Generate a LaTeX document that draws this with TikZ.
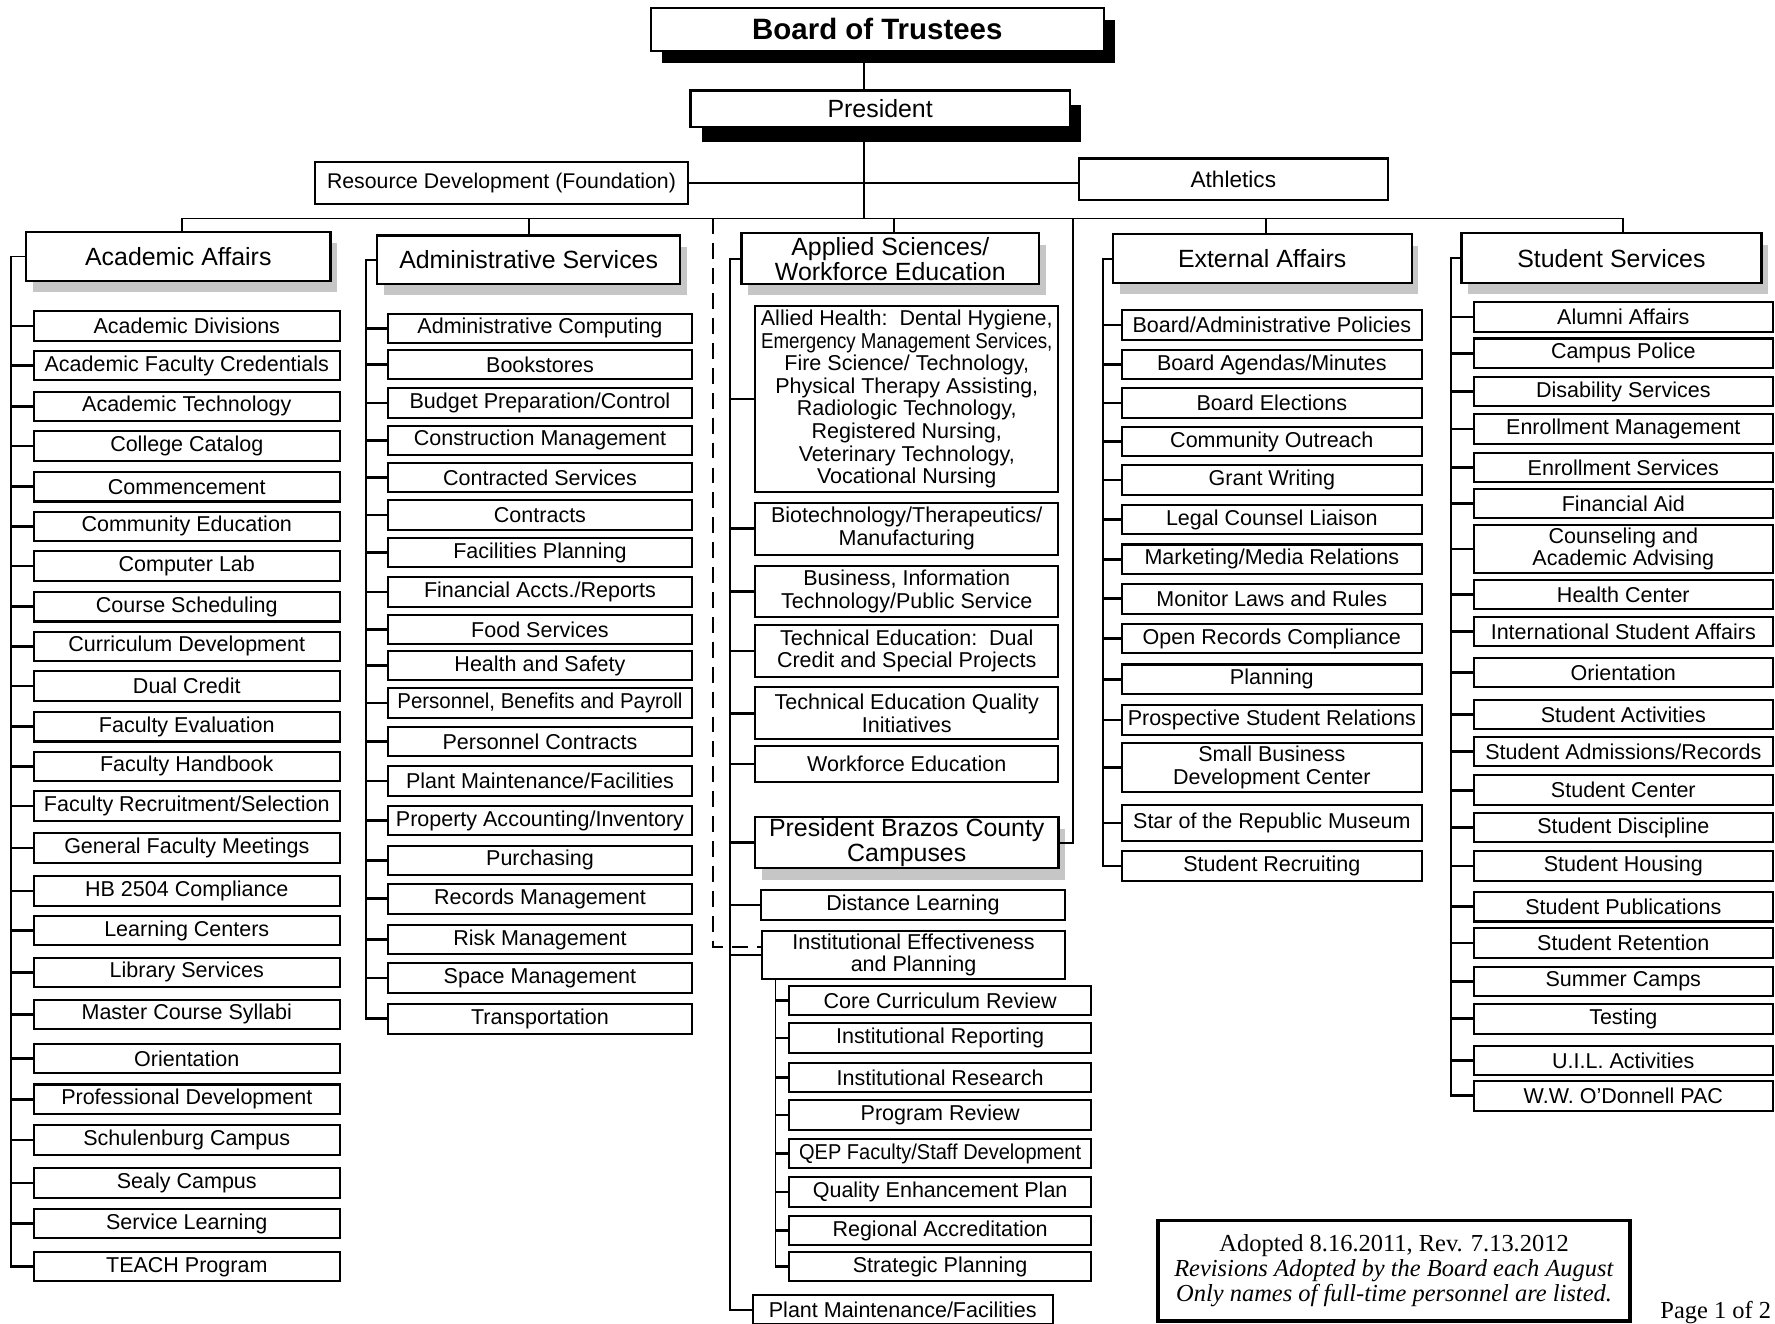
\documentclass[tikz,border=0pt]{standalone}
\usepackage{fontspec}
\setmainfont{Liberation Sans}
\newfontfamily\notefont{Liberation Serif}
\usetikzlibrary{shadows}

\begin{document}
\begin{tikzpicture}[x=0.5pt,y=-0.5pt,
    box/.style={draw, line width=0.9pt, fill=white, inner sep=0pt, align=center},
    item/.style={box, minimum width=134pt, minimum height=13pt, font=\fontsize{9.5}{10}\selectfont},
    head/.style={box, line width=1pt, minimum width=134pt, minimum height=21.5pt,
        font=\fontsize{11}{11}\selectfont,
        drop shadow={shadow xshift=3pt, shadow yshift=-5pt, fill=gray!45, opacity=1}},
    spine/.style={line width=0.8pt},
    tick/.style={line width=1.2pt}]
    \useasboundingbox (0,0) rectangle (1568,1169);

    % Board and President
    \node[box, line width=1pt, minimum width=200pt, minimum height=19pt,
        font=\bfseries\fontsize{13}{13}\selectfont,
        drop shadow={shadow xshift=5pt, shadow yshift=-5.5pt, fill=black, opacity=1}]
        (board) at (775,26) {Board of Trustees};
    \node[box, line width=1pt, minimum width=167.5pt, minimum height=16pt,
        font=\fontsize{11}{11}\selectfont,
        drop shadow={shadow xshift=5pt, shadow yshift=-6.5pt, fill=black, opacity=1}]
        (pres) at (777.5,96) {President};
    \node[box, minimum width=165pt, minimum height=18.5pt, font=\fontsize{9.4}{10}\selectfont]
        (res) at (443,161.5) {Resource Development (Foundation)};
    \node[box, minimum width=136.5pt, minimum height=18.5pt, font=\fontsize{10}{10}\selectfont]
        (ath) at (1089.5,158.5) {Athletics};

    \coordinate (trunk) at (763,0);
    \coordinate (bus) at (0,193);
    \draw[spine] (board.south -| trunk) -- (pres.north -| trunk);
    \draw[spine] (pres.south -| trunk) -- (trunk |- bus);
    \draw[spine] (res.east) -- (res.east -| ath.west);

    % Division heads
    \node[head, minimum width=134.5pt] (aahead) at (157.5,226.5) {Academic Affairs};
    \node[head] (ashead) at (467,229.5) {Administrative Services};
    \node[head, minimum width=131.5pt, minimum height=22.5pt] (aphead) at (786.5,228.5)
        {Applied Sciences/\\Workforce Education};
    \node[head, minimum width=132pt] (eahead) at (1115,228.5) {External Affairs};
    \node[head, minimum width=132.5pt, minimum height=22pt] (sshead) at (1423.5,228) {Student Services};

    \draw[spine] ([xshift=1.5pt]aahead.north) -- ([xshift=1.5pt]aahead.north |- bus)
        -- ([xshift=5pt]sshead.north |- bus) -- ([xshift=5pt]sshead.north);
    \draw[spine] (ashead.north) -- (ashead.north |- bus);
    \draw[spine] ([xshift=1.5pt]aphead.north) -- ([xshift=1.5pt]aphead.north |- bus);
    \draw[spine] ([xshift=1.5pt]eahead.north) -- ([xshift=1.5pt]eahead.north |- bus);

    % Academic Affairs
    \node[item, minimum width=135pt] (aa1) at (165,288) {Academic Divisions};
    \node[item, minimum width=135pt] (aa2) at (165,323) {Academic Faculty Credentials};
    \node[item, minimum width=135pt] (aa3) at (165,359) {Academic Technology};
    \node[item, minimum width=135pt] (aa4) at (165,394) {College Catalog};
    \node[item, minimum width=135pt] (aa5) at (165,430) {Commencement};
    \node[item, minimum width=135pt] (aa6) at (165,465) {Community Education};
    \node[item, minimum width=135pt] (aa7) at (165,500) {Computer Lab};
    \node[item, minimum width=135pt] (aa8) at (165,536) {Course Scheduling};
    \node[item, minimum width=135pt] (aa9) at (165,571) {Curriculum Development};
    \node[item, minimum width=135pt] (aa10) at (165,606) {Dual Credit};
    \node[item, minimum width=135pt] (aa11) at (165,642) {Faculty Evaluation};
    \node[item, minimum width=135pt] (aa12) at (165,677) {Faculty Handbook};
    \node[item, minimum width=135pt] (aa13) at (165,712) {Faculty Recruitment/Selection};
    \node[item, minimum width=135pt] (aa14) at (165,749) {General Faculty Meetings};
    \node[item, minimum width=135pt] (aa15) at (165,787) {HB 2504 Compliance};
    \node[item, minimum width=135pt] (aa16) at (165,822) {Learning Centers};
    \node[item, minimum width=135pt] (aa17) at (165,859) {Library Services};
    \node[item, minimum width=135pt] (aa18) at (165,896) {Master Course Syllabi};
    \node[item, minimum width=135pt] (aa19) at (165,935) {Orientation};
    \node[item, minimum width=135pt] (aa20) at (165,971) {Professional Development};
    \node[item, minimum width=135pt] (aa21) at (165,1007) {Schulenburg Campus};
    \node[item, minimum width=135pt] (aa22) at (165,1045) {Sealy Campus};
    \node[item, minimum width=135pt] (aa23) at (165,1081) {Service Learning};
    \node[item, minimum width=135pt] (aa24) at (165,1119) {TEACH Program};
    \coordinate (aasp) at (10,0);
    \draw[spine] (aahead.west) -| (aasp |- aa24.west) -- (aa24.west);
    \foreach \i in {1,...,24} \draw[tick] (aa\i.west) -- (aa\i.west -| aasp);

    % Administrative Services
    \node[item] (as1) at (477,290) {Administrative Computing};
    \node[item] (as2) at (477,322) {Bookstores};
    \node[item] (as3) at (477,356) {Budget Preparation/Control};
    \node[item] (as4) at (477,389) {Construction Management};
    \node[item] (as5) at (477,422) {Contracted Services};
    \node[item] (as6) at (477,455) {Contracts};
    \node[item] (as7) at (477,488) {Facilities Planning};
    \node[item] (as8) at (477,523) {Financial Accts./Reports};
    \node[item] (as9) at (477,556) {Food Services};
    \node[item] (as10) at (477,588) {Health and Safety};
    \node[item] (as11) at (477,621) {\scalebox{0.95}[1]{Personnel, Benefits and Payroll}};
    \node[item] (as12) at (477,655) {Personnel Contracts};
    \node[item] (as13) at (477,690) {Plant Maintenance/Facilities};
    \node[item] (as14) at (477,725) {Property Accounting/Inventory};
    \node[item] (as15) at (477,760) {Purchasing};
    \node[item] (as16) at (477,794) {Records Management};
    \node[item] (as17) at (477,830) {Risk Management};
    \node[item] (as18) at (477,864) {Space Management};
    \node[item] (as19) at (477,900) {Transportation};
    \coordinate (assp) at (323,0);
    \draw[spine] (ashead.west) -| (assp |- as19.west) -- (as19.west);
    \foreach \i in {1,...,19} \draw[tick] (as\i.west) -- (as\i.west -| assp);

    % Applied Sciences / Workforce Education
    \node[item, minimum height=82.5pt] (ap1) at (801,352.5)
        {Allied Health:\ \ Dental Hygiene,\\
         \scalebox{0.87}[1]{Emergency Management Services,}\\
         Fire Science/ Technology,\\
         Physical Therapy Assisting,\\
         Radiologic Technology,\\
         Registered Nursing,\\
         Veterinary Technology,\\
         Vocational Nursing};
    \node[item, minimum height=23pt] (ap2) at (801,467) {Biotechnology/Therapeutics/\\Manufacturing};
    \node[item, minimum height=22.5pt] (ap3) at (801,522.5) {Business, Information\\Technology/Public Service};
    \node[item, minimum height=23pt] (ap4) at (801,575) {Technical Education:\ \ Dual\\Credit and Special Projects};
    \node[item, minimum height=23pt] (ap5) at (801,630) {Technical Education Quality\\Initiatives};
    \node[item, minimum height=16pt] (ap6) at (801,675) {Workforce Education};
    \node[head, minimum height=22.5pt] (bzhead) at (801,744.5) {President Brazos County\\Campuses};
    \node[item, minimum height=13.5pt] (dl) at (806.5,799.5) {Distance Learning};
    \node[item, minimum height=21.5pt] (ie) at (807,843.5) {Institutional Effectiveness\\and Planning};
    \node[item, minimum width=132.5pt] (pm) at (797.5,1157) {Plant Maintenance/Facilities};
    \coordinate (apsp) at (645,0);
    \draw[spine] (aphead.west) -| (apsp |- pm.west) -- (pm.west);
    \foreach \n in {ap1,ap2,ap3,ap4,ap5,ap6,bzhead,dl,ie} \draw[tick] (\n.west) -- (\n.west -| apsp);

    % Brazos County link and dashed link
    \coordinate (bzc) at (948,193);
    \draw[spine] (bzc) |- (bzhead.east);
    \coordinate (dsh) at (630,193);
    \draw[spine, dash pattern=on 7pt off 4pt] (dsh) |- ([yshift=3.5pt]ie.west);

    % Institutional Effectiveness
    \node[item, minimum width=133.5pt] (ie1) at (830.5,884) {Core Curriculum Review};
    \node[item, minimum width=133.5pt] (ie2) at (830.5,917) {Institutional Reporting};
    \node[item, minimum width=133.5pt] (ie3) at (830.5,952) {Institutional Research};
    \node[item, minimum width=133.5pt] (ie4) at (830.5,985) {Program Review};
    \node[item, minimum width=133.5pt] (ie5) at (830.5,1019) {\scalebox{0.93}[1]{QEP Faculty/Staff Development}};
    \node[item, minimum width=133.5pt] (ie6) at (830.5,1053) {Quality Enhancement Plan};
    \node[item, minimum width=133.5pt] (ie7) at (830.5,1087) {Regional Accreditation};
    \node[item, minimum width=133.5pt] (ie8) at (830.5,1119) {Strategic Planning};
    \coordinate (iesp) at (685,0);
    \draw[spine] (ie.south -| iesp) -- (iesp |- ie8.west) -- (ie8.west);
    \foreach \i in {1,...,8} \draw[tick] (ie\i.west) -- (ie\i.west -| iesp);

    % External Affairs
    \node[item, minimum width=132.5pt] (ea1) at (1123.5,287) {Board/Administrative Policies};
    \node[item, minimum width=132.5pt] (ea2) at (1123.5,322) {Board Agendas/Minutes};
    \node[item, minimum width=132.5pt] (ea3) at (1123.5,356) {Board Elections};
    \node[item, minimum width=132.5pt] (ea4) at (1123.5,390) {Community Outreach};
    \node[item, minimum width=132.5pt] (ea5) at (1123.5,424) {Grant Writing};
    \node[item, minimum width=132.5pt] (ea6) at (1123.5,459) {Legal Counsel Liaison};
    \node[item, minimum width=132.5pt] (ea7) at (1123.5,494) {Marketing/Media Relations};
    \node[item, minimum width=132.5pt] (ea8) at (1123.5,529) {Monitor Laws and Rules};
    \node[item, minimum width=132.5pt] (ea9) at (1123.5,564) {Open Records Compliance};
    \node[item, minimum width=132.5pt] (ea10) at (1123.5,600) {Planning};
    \node[item, minimum width=132.5pt] (ea11) at (1123.5,636) {Prospective Student Relations};
    \node[item, minimum width=132.5pt, minimum height=22pt] (ea12) at (1123.5,678) {Small Business\\Development Center};
    \node[item, minimum width=132.5pt, minimum height=16pt] (ea13) at (1123.5,727) {Star of the Republic Museum};
    \node[item, minimum width=132.5pt] (ea14) at (1123.5,765) {Student Recruiting};
    \coordinate (easp) at (974,0);
    \draw[spine] (eahead.west) -| (easp |- ea14.west) -- (ea14.west);
    \foreach \i in {1,...,14} \draw[tick] (ea\i.west) -- (ea\i.west -| easp);

    % Student Services
    \node[item, minimum width=132pt] (ss1) at (1434,280) {Alumni Affairs};
    \node[item, minimum width=132pt] (ss2) at (1434,312) {Campus Police};
    \node[item, minimum width=132pt] (ss3) at (1434,346) {Disability Services};
    \node[item, minimum width=132pt] (ss4) at (1434,379) {Enrollment Management};
    \node[item, minimum width=132pt] (ss5) at (1434,413) {Enrollment Services};
    \node[item, minimum width=132pt] (ss6) at (1434,445) {Financial Aid};
    \node[item, minimum width=132pt, minimum height=21.5pt,
        font=\fontsize{9.5}{8.5}\selectfont] (ss7) at (1434,485) {Counseling and\\Academic Advising};
    \node[item, minimum width=132pt] (ss8) at (1434,525) {Health Center};
    \node[item, minimum width=132pt] (ss9) at (1434,558) {International Student Affairs};
    \node[item, minimum width=132pt] (ss10) at (1434,594) {Orientation};
    \node[item, minimum width=132pt] (ss11) at (1434,631) {Student Activities};
    \node[item, minimum width=132pt] (ss12) at (1434,664) {Student Admissions/Records};
    \node[item, minimum width=132pt] (ss13) at (1434,698) {Student Center};
    \node[item, minimum width=132pt] (ss14) at (1434,731) {Student Discipline};
    \node[item, minimum width=132pt] (ss15) at (1434,765) {Student Housing};
    \node[item, minimum width=132pt] (ss16) at (1434,801) {Student Publications};
    \node[item, minimum width=132pt] (ss17) at (1434,833) {Student Retention};
    \node[item, minimum width=132pt] (ss18) at (1434,867) {Summer Camps};
    \node[item, minimum width=132pt] (ss19) at (1434,900) {Testing};
    \node[item, minimum width=132pt] (ss20) at (1434,937) {U.I.L. Activities};
    \node[item, minimum width=132pt] (ss21) at (1434,968) {W.W. O'Donnell PAC};
    \coordinate (sssp) at (1282,0);
    \draw[spine] (sshead.west) -| (sssp |- ss21.west) -- (ss21.west);
    \foreach \i in {1,...,21} \draw[tick] (ss\i.west) -- (ss\i.west -| sssp);

    % Adoption note
    \node[draw, line width=1.5pt, minimum width=208.5pt, minimum height=44.5pt, inner sep=0pt,
        align=center, font=\notefont\fontsize{10.8}{11}\selectfont]
        (note) at (1231.5,1122.5)
        {Adopted 8.16.2011, Rev. 7.13.2012\\
         \textit{Revisions Adopted by the Board each August}\\
         \textit{Only names of full-time personnel are listed.}};
    \node[anchor=east, inner sep=0pt, font=\notefont\fontsize{10.8}{11}\selectfont]
        (page) at (1565,1159) {Page 1 of 2};
\end{tikzpicture}
\end{document}
